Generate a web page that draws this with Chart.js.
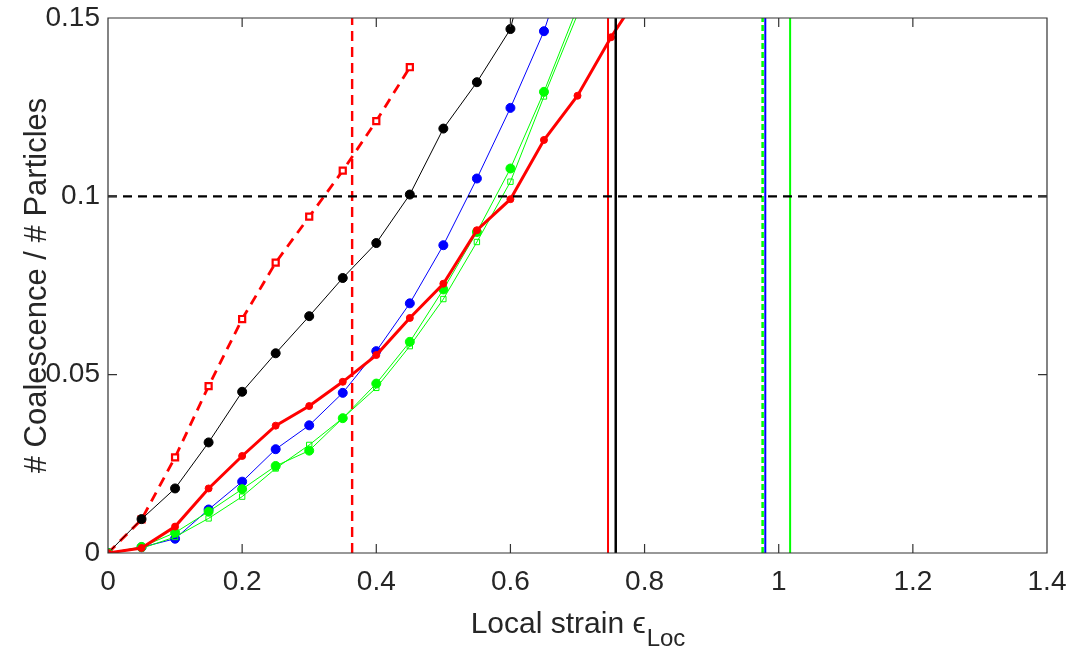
<!DOCTYPE html>
<html>
<head>
<meta charset="utf-8">
<script src="https://cdn.jsdelivr.net/npm/chart.js@4.4.0/dist/chart.umd.min.js"></script>
<style>
  html, body { margin: 0; padding: 0; background: #fff; }
</style>
</head>
<body>
<canvas id="myChart" width="1072" height="653"></canvas>
<script>
// strain steps shared by every curve
var strain = [0, 0.05, 0.1, 0.15, 0.2, 0.25, 0.3, 0.35, 0.4, 0.45, 0.5, 0.55, 0.6, 0.65, 0.7, 0.75, 0.8];

// curves (last point runs past the top)
var redDashed = [0, 0.0094, 0.0268, 0.0468, 0.0656, 0.0814, 0.0943, 0.1072, 0.1211, 0.1362];
var black = [0, 0.0095, 0.0181, 0.0310, 0.0452, 0.0560, 0.0664, 0.0771, 0.0869, 0.1005, 0.1190, 0.1320, 0.1469, 0.1850];
var blue = [0, 0.0016, 0.0040, 0.0122, 0.0200, 0.0291, 0.0358, 0.0449, 0.0566, 0.0700, 0.0863, 0.1050, 0.1248, 0.1463, 0.1750];
var redThick = [0, 0.0014, 0.0074, 0.0181, 0.0272, 0.0357, 0.0412, 0.0480, 0.0555, 0.0659, 0.0755, 0.0905, 0.0992, 0.1158, 0.1282, 0.1446, 0.1590];
var greenFilled = [0, 0.0017, 0.0057, 0.0116, 0.0179, 0.0244, 0.0287, 0.0378, 0.0475, 0.0592, 0.0739, 0.0900, 0.1078, 0.1293, 0.1530];
var greenSquares = [0, 0.0013, 0.0045, 0.0097, 0.0158, 0.0237, 0.0303, 0.0378, 0.0463, 0.0580, 0.0712, 0.0872, 0.1041, 0.1280, 0.1510];

// reference lines
var vRedDashed = 0.364;
var vRed = 0.7455;
var vBlack = 0.757;
var vGreenDashed = 0.976;
var vBlue = 0.980;
var vGreen = 1.017;
var hLevel = 0.1;

// axes
var xMin = 0, xMax = 1.4, yMin = 0, yMax = 0.15;
var xTickValues = [0, 0.2, 0.4, 0.6, 0.8, 1, 1.2, 1.4];
var xTickLabels = ["0", "0.2", "0.4", "0.6", "0.8", "1", "1.2", "1.4"];
var yTickValues = [0, 0.05, 0.1, 0.15];
var yTickLabels = ["0", "0.05", "0.1", "0.15"];
var xTitle = "Local strain \u03f5";
var xTitleSub = "Loc";
var yTitle = "# Coalescence / # Particles";

var FONT = "'Liberation Sans', Arial, Helvetica, sans-serif";
var TEXT = "#262626";

function pts(ys) {
  return ys.map(function(y, i) { return { x: strain[i], y: y }; });
}
function vline(x) {
  return [{ x: x, y: yMin }, { x: x, y: yMax }];
}

function curve(label, ys, color, width, opts) {
  var d = {
    label: label,
    data: pts(ys),
    showLine: true,
    borderColor: color,
    backgroundColor: color,
    borderWidth: width,
    pointBackgroundColor: color,
    pointBorderColor: color,
    pointBorderWidth: 1,
    pointRadius: 4.5,
    pointStyle: "circle",
    tension: 0
  };
  for (var k in opts) d[k] = opts[k];
  return d;
}

function refLine(label, data, color, width, dash, order) {
  return {
    label: label,
    data: data,
    showLine: true,
    borderColor: color,
    borderWidth: width,
    borderDash: dash,
    pointRadius: 0,
    order: order
  };
}

var framePlugin = {
  id: "frame",
  afterDatasetsDraw: function(chart) {
    var ctx = chart.ctx, a = chart.chartArea;
    var xs = chart.scales.x, ys = chart.scales.y;
    ctx.save();
    ctx.strokeStyle = "#333333";
    ctx.lineWidth = 1.2;
    ctx.beginPath();
    ctx.rect(a.left, a.top, a.right - a.left, a.bottom - a.top);
    xTickValues.forEach(function(v) {
      var px = xs.getPixelForValue(v);
      ctx.moveTo(px, a.bottom); ctx.lineTo(px, a.bottom - 9);
      ctx.moveTo(px, a.top); ctx.lineTo(px, a.top + 9);
    });
    yTickValues.forEach(function(v) {
      var py = ys.getPixelForValue(v);
      ctx.moveTo(a.left, py); ctx.lineTo(a.left + 9, py);
      ctx.moveTo(a.right, py); ctx.lineTo(a.right - 9, py);
    });
    ctx.stroke();

    // x title with subscript
    ctx.fillStyle = TEXT;
    ctx.textBaseline = "alphabetic";
    ctx.textAlign = "left";
    ctx.font = "30px " + FONT;
    var w1 = ctx.measureText(xTitle).width;
    ctx.font = "24px " + FONT;
    var w2 = ctx.measureText(xTitleSub).width;
    var x0 = (a.left + a.right) / 2 - (w1 + w2) / 2;
    ctx.font = "30px " + FONT;
    ctx.fillText(xTitle, x0, 633);
    ctx.font = "24px " + FONT;
    ctx.fillText(xTitleSub, x0 + w1 + 1, 646);

    // y title
    ctx.translate(37, (a.top + a.bottom) / 2);
    ctx.rotate(-Math.PI / 2);
    ctx.textAlign = "center";
    ctx.textBaseline = "middle";
    ctx.font = "31px " + FONT;
    ctx.fillText(yTitle, 0, 0);
    ctx.restore();
  }
};

var ctx = document.getElementById("myChart").getContext("2d");
new Chart(ctx, {
  type: "scatter",
  data: {
    datasets: [
      refLine("h", [{ x: xMin, y: hLevel }, { x: xMax, y: hLevel }], "#000000", 2.2, [9, 6], 0),
      refLine("vGreen", vline(vGreen), "#00ff00", 2, [], 1),
      refLine("vBlue", vline(vBlue), "#0000ff", 2, [], 1),
      refLine("vGreenDashed", vline(vGreenDashed), "#00ff00", 2.5, [6, 3], 1),
      refLine("vBlack", vline(vBlack), "#000000", 2.5, [], 1),
      refLine("vRed", vline(vRed), "#ff0000", 2, [], 1),
      refLine("vRedDashed", vline(vRedDashed), "#ff0000", 2.4, [10, 6], 1),
      curve("redThick", redThick, "#ff0000", 3, { pointRadius: 3.5, order: 2 }),
      curve("greenFilled", greenFilled, "#00ff00", 1, { order: 3 }),
      curve("greenSquares", greenSquares, "#00ff00", 1, {
        pointStyle: "rect", pointRadius: 3.8, pointBackgroundColor: "rgba(255,255,255,0)", order: 4
      }),
      curve("blue", blue, "#0000ff", 1, { order: 5 }),
      curve("black", black, "#000000", 1, { order: 6 }),
      curve("redDashed", redDashed, "#ff0000", 2.8, {
        borderDash: [10, 7], pointStyle: "rect", pointRadius: 4.3, pointBorderWidth: 2.2,
        pointBackgroundColor: "#ffffff", order: 7
      })
    ]
  },
  options: {
    responsive: false,
    animation: false,
    devicePixelRatio: 1,
    layout: { padding: { top: 18, right: 25, left: 0, bottom: 0 } },
    plugins: {
      legend: { display: false },
      tooltip: { enabled: false }
    },
    scales: {
      x: {
        type: "linear",
        min: xMin,
        max: xMax,
        afterFit: function(s) {
          s.height = 100;
          s.paddingLeft = 0;
          s.paddingRight = 0;
        },
        afterBuildTicks: function(s) {
          s.ticks = xTickValues.map(function(v) { return { value: v }; });
        },
        grid: { display: false, drawTicks: false },
        border: { display: false },
        ticks: {
          padding: 12,
          color: TEXT,
          maxRotation: 0,
          font: { family: FONT, size: 28 },
          callback: function(v) { return xTickLabels[xTickValues.indexOf(v)]; }
        }
      },
      y: {
        type: "linear",
        min: yMin,
        max: yMax,
        afterFit: function(s) {
          s.width = 108;
          s.paddingTop = 0;
          s.paddingBottom = 0;
        },
        afterBuildTicks: function(s) {
          s.ticks = yTickValues.map(function(v) { return { value: v }; });
        },
        grid: { display: false, drawTicks: false },
        border: { display: false },
        ticks: {
          padding: 8,
          color: TEXT,
          font: { family: FONT, size: 28 },
          callback: function(v) { return yTickLabels[yTickValues.indexOf(v)]; }
        }
      }
    }
  },
  plugins: [framePlugin]
});
</script>
</body>
</html>
